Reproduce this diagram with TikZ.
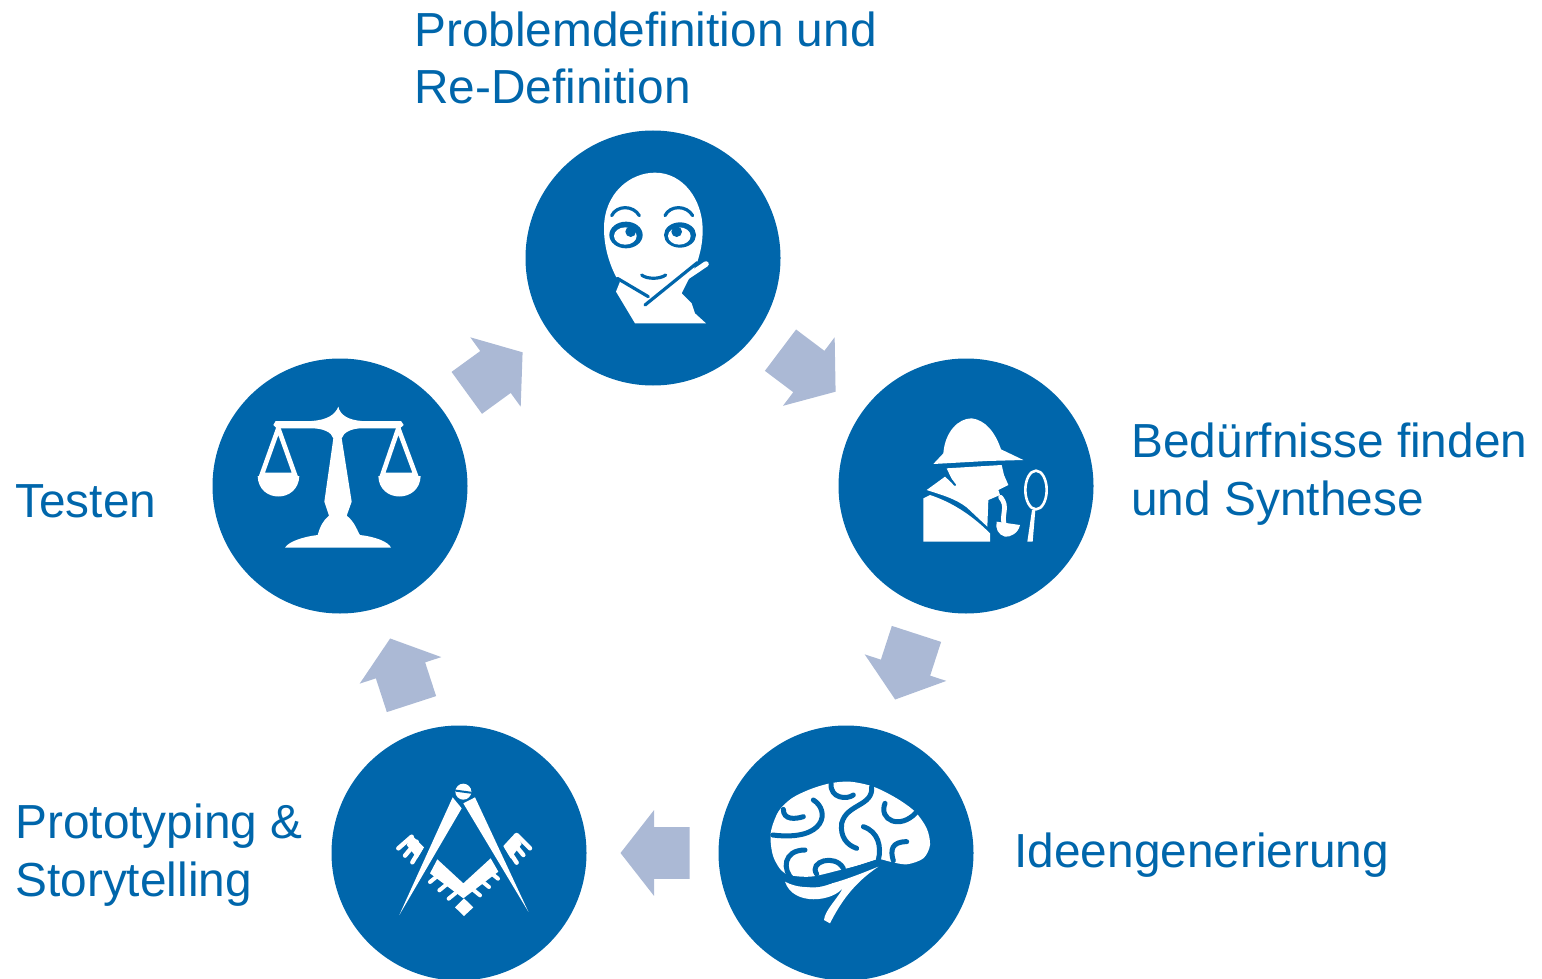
\documentclass[tikz,border=0pt]{standalone}
\usepackage{fontspec}
\setmainfont{Liberation Sans}
\usetikzlibrary{shapes.arrows}
\definecolor{stepblue}{HTML}{0066AB}
\definecolor{arrowblue}{HTML}{ABB9D5}
\tikzset{
  stepcircle/.style={circle,fill=stepblue,minimum size=127.5pt,inner sep=0pt},
  steparrow/.style={single arrow,fill=arrowblue,minimum height=34.5pt,minimum width=42.5pt,
    single arrow head extend=8.5pt,single arrow tip angle=104,inner xsep=0pt,inner ysep=12.75pt,anchor=tip},
  steplabel/.style={text=stepblue,font=\fontsize{23.9pt}{28.9pt}\selectfont,align=left,anchor=west,inner sep=0pt},
  icon/.style={shift={#1},x=0.16667pt,y=-0.16667pt},
  gap/.style={draw=stepblue,line width=2.5pt,line cap=round},
  thingap/.style={draw=stepblue,line width=1.6pt,line cap=round},
  wline/.style={draw=white,line width=#1,line cap=round}
}
\begin{document}
\begin{tikzpicture}[x=0.5pt,y=-0.5pt]
  \useasboundingbox (0,0) rectangle (1542,979);

% circles
  \node[stepcircle] (problem) at (653,258) {};
  \node[stepcircle] (needs)   at (966,486) {};
  \node[stepcircle] (ideas)   at (846,853) {};
  \node[stepcircle] (proto)   at (459,853) {};
  \node[stepcircle] (tests)   at (340,486) {};

% block arrows
  \node[steparrow,rotate=-37]  (arrowa) at (836,392) {};
  \node[steparrow,rotate=-108] (arrowb) at (895,700) {};
  \node[steparrow,rotate=180]  (arrowc) at (620,853) {};
  \node[steparrow,rotate=108]  (arrowd) at (390,638) {};
  \node[steparrow,rotate=36]   (arrowe) at (523,352) {};

% labels
  \node[steplabel] (problemtext) at (414,58)  {Problemdefinition und\\Re-Definition};
  \node[steplabel] (needstext)   at (1131,474) {Bedürfnisse finden\\und Synthese};
  \node[steplabel] (ideastext)   at (1014,855) {Ideengenerierung};
  \node[steplabel] (prototext)   at (15,855)  {Prototyping \&\\Storytelling};
  \node[steplabel] (teststext)   at (15,501)  {Testen};

% face
  \begin{scope}[icon={(580,150)}]
    \fill[white] (108,380) .. controls (85,335) and (72,285) .. (72,235)
      .. controls (72,130) and (150,68) .. (225,68)
      .. controls (310,68) and (368,150) .. (368,240)
      .. controls (368,275) and (362,305) .. (352,335) -- (305,430) -- (335,460)
      -- (345,490) -- (378,520) -- (165,520) -- (108,425) -- (120,395) -- cycle;
    \draw[wline=2.8pt] (225,445) -- (378,342);
    \draw[thingap] (112,385) -- (205,440);
    \draw[thingap] (195,465) -- (352,338);
    \draw[thingap] (95,197) .. controls (110,165) and (160,165) .. (178,197);
    \draw[thingap] (255,197) .. controls (270,165) and (320,165) .. (338,197);
    \draw[thingap] (185,375) .. controls (200,388) and (240,388) .. (257,375);
    \fill[stepblue] (138,255) ellipse (50 and 40);
    \fill[stepblue] (300,255) ellipse (48 and 38);
    \fill[white] (136,258) ellipse (34 and 26);
    \fill[white] (298,258) ellipse (34 and 26);
    \fill[stepblue] (152,245) circle (16);
    \fill[stepblue] (290,245) circle (16);
  \end{scope}

% detective
  \begin{scope}[icon={(900,400)}]
    \fill[white] (100,192) -- (130,160) .. controls (135,95) and (175,55) .. (215,55)
      .. controls (255,60) and (285,95) .. (303,148) -- (370,180) -- (260,183) -- cycle;
    \fill[white] (140,205) -- (305,195) -- (312,225) -- (325,255) -- (295,270) -- (300,285) -- (265,300)
      -- (262,380) -- (200,322) .. controls (165,295) and (125,285) .. (80,270) -- (135,230) -- (165,258) -- cycle;
    \fill[white] (70,295) -- (90,285) .. controls (150,305) and (210,340) .. (270,400) -- (270,425) -- (70,425) -- cycle;
    \draw[thingap,line width=1pt] (142,225) -- (165,255);
    \draw[wline=2.4pt] (302,292) .. controls (325,320) and (305,340) .. (312,372);
    \fill[white] (290,365) -- (360,375) .. controls (355,400) and (330,412) .. (315,410)
      .. controls (295,405) and (285,385) .. (290,365) -- cycle;
    \draw[white,line width=1.3pt] (408,270) ellipse (32 and 58);
    \fill[white] (396,330) -- (406,330) -- (398,425) -- (382,425) -- cycle;
  \end{scope}

% brain
  \begin{scope}[icon={(750,770)}]
    \fill[white] plot[smooth cycle] coordinates {(105,310) (70,260) (62,190) (85,125) (125,85) (180,58)
      (240,40) (300,35) (370,50) (440,85) (495,125) (530,175) (540,225) (520,265) (470,283) (420,275)
      (385,268) (330,285) (270,300) (180,320)};
    \fill[white] (105,335) .. controls (170,370) and (250,345) .. (385,290)
      .. controls (310,340) and (270,400) .. (240,460) -- (222,450) .. controls (225,420) and (260,390) .. (280,352)
      .. controls (250,395) and (130,410) .. (105,335) -- cycle;
    \draw[gap] (100,118) .. controls (100,150) and (135,148) .. (160,140);
    \draw[gap] (190,90) .. controls (240,120) and (230,215) .. (68,195);
    \draw[gap] (243,40) .. controls (240,85) and (290,90) .. (310,75);
    \draw[gap] (365,50) .. controls (370,110) and (290,100) .. (275,160) .. controls (270,200) and (290,225) .. (320,235);
    \draw[gap] (340,170) .. controls (385,185) and (395,230) .. (385,270);
    \draw[gap] (405,100) .. controls (385,150) and (450,180) .. (498,128);
    \draw[gap] (470,215) .. controls (425,215) and (420,240) .. (430,272);
    \draw[gap] (165,240) .. controls (100,240) and (95,300) .. (130,330)
      .. controls (190,360) and (240,340) .. (290,305) -- (385,275);
    \draw[gap] (200,312) .. controls (175,275) and (255,250) .. (280,295);
  \end{scope}

% compass and square
  \begin{scope}[icon={(380,770)}]
    \fill[white] (218,82) -- (245,115) -- (58,435) -- cycle;
    \fill[white] (250,100) -- (285,82) -- (445,425) -- cycle;
    \fill[white] (250,65) circle (24);
    \draw[thingap,line width=1pt] (228,62) -- (272,68);
    \fill[white] (172,268) -- (250,340) -- (332,265) -- (355,305) -- (250,385) -- (150,310) -- cycle;
    \foreach \tx/\ty in {172/318,200/343,228/368} {
      \draw[wline=2pt] (\tx,\ty) -- ++(-22,18);
    }
    \foreach \tx/\ty in {332/308,305/333,278/358} {
      \draw[wline=2pt] (\tx,\ty) -- ++(22,18);
    }
    \fill[white] (252,385) -- (280,412) -- (252,438) -- (225,412) -- cycle;
    \fill[white] (95,195) -- (132,232) -- (112,265) -- (80,225) -- cycle;
    \draw[wline=2.2pt] (95,200) -- (55,235);
    \draw[wline=2.2pt] (110,215) -- (75,257);
    \draw[wline=2.2pt] (122,235) -- (97,277);
    \fill[white] (405,190) -- (370,228) -- (392,265) -- (425,222) -- cycle;
    \draw[wline=2.2pt] (410,195) -- (450,235);
    \draw[wline=2.2pt] (395,212) -- (430,255);
    \draw[wline=2.2pt] (380,232) -- (410,278);
  \end{scope}

% scales
  \begin{scope}[icon={(245,395)}]
    \fill[white] (280,35) .. controls (285,60) and (310,75) .. (350,78) -- (468,78) -- (476,90) -- (465,100)
      -- (350,100) .. controls (320,100) and (295,112) .. (290,130) -- (320,320) -- (305,362)
      .. controls (330,380) and (340,415) .. (345,420) .. controls (390,425) and (430,440) .. (438,458)
      -- (120,458) .. controls (130,440) and (175,425) .. (218,420) .. controls (225,395) and (235,375) .. (252,362)
      -- (238,320) -- (265,130) .. controls (260,112) and (235,100) .. (200,100)
      -- (95,100) -- (85,90) -- (92,78) -- (200,78) .. controls (245,75) and (270,60) .. (280,35) -- cycle;
    \draw[white,line width=2.3pt] (100,100) -- (50,240) -- (150,240) -- cycle;
    \draw[white,line width=2.3pt] (460,100) -- (412,240) -- (512,240) -- cycle;
    \fill[white] (38,243) .. controls (40,325) and (160,325) .. (163,243) -- cycle;
    \fill[white] (400,243) .. controls (402,325) and (524,325) .. (527,243) -- cycle;
  \end{scope}

\end{tikzpicture}
\end{document}
